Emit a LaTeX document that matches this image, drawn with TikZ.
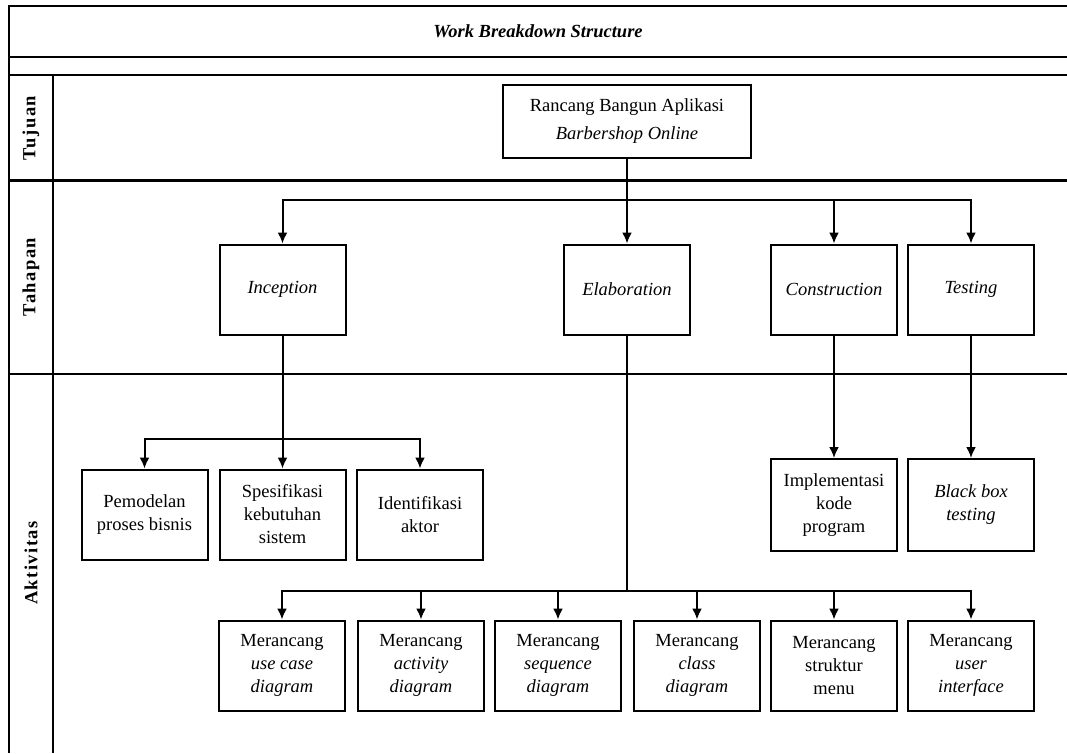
\documentclass[tikz,border=0pt]{standalone}
\usepackage{fontspec}
\setmainfont{Liberation Serif}
\usetikzlibrary{positioning, arrows.meta, calc}

\begin{document}
\begin{tikzpicture}[
    x=1pt, y=-1pt, % Picture units follow the page, y grows downwards
    font=\fontsize{18.5}{23}\selectfont,
    % Styles
    task/.style={ % Box of the breakdown
        rectangle,
        draw,
        line width=2pt,
        minimum width=126pt,
        minimum height=90pt,
        inner sep=2pt,
        align=center
    },
    row/.style={ % Row label on the left
        rotate=90,
        font=\fontsize{18.5}{23}\selectfont\bfseries\addfontfeature{LetterSpace=8}
    },
    frame/.style={
        line width=1.6pt
    },
    arrow/.style={
        -{Latex[length=11pt, width=10pt]},
        line width=2pt
    }
]
    \useasboundingbox (0,0) rectangle (1067,753);

    % Frame
    \draw [frame] (1067,6) -- (9,6) -- (9,753);
    \draw [frame] (9,57) -- (1067,57);
    \draw [frame] (9,75) -- (1067,75);
    \draw [frame, line width=3pt] (9,180) -- (1067,180);
    \draw [frame, line width=2.2pt] (9,374) -- (1067,374);
    \draw [frame] (53,75) -- (53,753);

    % Title and row labels
    \node at (538,31) (title) {\bfseries\itshape Work Breakdown Structure};
    \node at (31,128) [row] (tujuan) {Tujuan};
    \node at (31,277) [row] (tahapan) {Tahapan};
    \node at (31,563) [row] (aktivitas) {Aktivitas};

    % Goal
    \node at (627,121.5) [task, minimum width=248pt, minimum height=73pt] (goal)
        {Rancang Bangun Aplikasi\\[5pt]\textit{Barbershop Online}};

    % Phases
    \node at (282.5,289.5) [task] (inception) {\textit{Inception}};
    \node at (627,289.5) [task] (elaboration) {\textit{Elaboration}};
    \node at (834,289.5) [task] (construction) {\textit{Construction}};
    \node at (971,289.5) [task] (testing) {\textit{Testing}};

    % Activities of Inception
    \node at (144.5,514.5) [task] (pemodelan) {Pemodelan\\proses bisnis};
    \node at (282.5,514.5) [task] (spesifikasi) {Spesifikasi\\kebutuhan\\sistem};
    \node at (420,514.5) [task] (identifikasi) {Identifikasi\\aktor};

    % Activities of Construction and Testing
    \node at (834,505) [task, minimum height=92pt] (implementasi) {Implementasi\\kode\\program};
    \node at (971,505) [task, minimum height=92pt] (blackbox) {\textit{Black box}\\\textit{testing}};

    % Activities of Elaboration
    \foreach \n/\t/\x in {usecase/use case/282, activity/activity/421, sequence/sequence/558, class/class/697}
        \node at (\x,665.5) [task] (\n) {Merancang\\\textit{\t}\\\textit{diagram}};
    \node at (834,665.5) [task] (struktur) {Merancang\\struktur\\menu};
    \node at (971,665.5) [task] (ui) {Merancang\\\textit{user}\\\textit{interface}};

    % Bus levels
    \coordinate (phasebus) at (0,200);
    \coordinate (inceptionbus) at (0,439);
    \coordinate (elaborationbus) at (0,591);

    % Goal -> Phases
    \draw [arrow] (goal) -- (elaboration);
    \foreach \p in {inception, construction, testing}
        \draw [arrow] (goal) -- (goal |- phasebus) -| (\p);

    % Inception -> Activities
    \draw [arrow] (inception) -- (spesifikasi);
    \foreach \a in {pemodelan, identifikasi}
        \draw [arrow] (inception) -- (inception |- inceptionbus) -| (\a);

    % Construction, Testing -> Activities
    \draw [arrow] (construction) -- (implementasi);
    \draw [arrow] (testing) -- (blackbox);

    % Elaboration -> Activities
    \foreach \a in {usecase, activity, sequence, class, struktur, ui}
        \draw [arrow] (elaboration) -- (elaboration |- elaborationbus) -| (\a);
\end{tikzpicture}
\end{document}
